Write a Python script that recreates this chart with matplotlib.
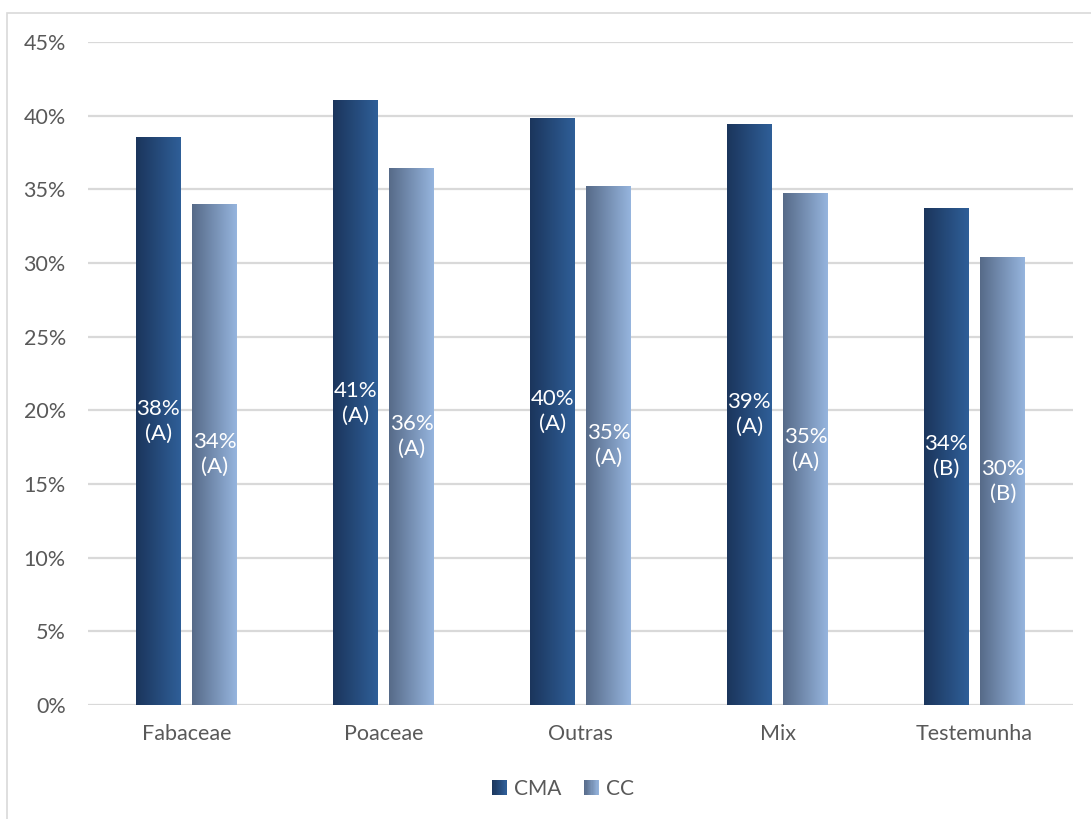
import numpy as np
import matplotlib.pyplot as plt
from matplotlib.colors import LinearSegmentedColormap
from matplotlib.patches import Rectangle
from matplotlib.legend_handler import HandlerBase

plt.rcParams['font.family'] = ['Lato', 'DejaVu Sans']

categorias = ['Fabaceae', 'Poaceae', 'Outras', 'Mix', 'Testemunha']
cma = [38.5, 41.0, 39.8, 39.4, 33.7]
cc = [34.0, 36.4, 35.2, 34.7, 30.4]
letras_cma = ['A', 'A', 'A', 'A', 'B']
letras_cc = ['A', 'A', 'A', 'A', 'B']
series = ['CMA', 'CC']

grad_cma = LinearSegmentedColormap.from_list('cma', ['#1b355c', '#2f5f98'])
grad_cc = LinearSegmentedColormap.from_list('cc', ['#566a88', '#96b5de'])

text_gray = '#595959'
grid_gray = '#d9d9d9'


class GradientHandler(HandlerBase):
    def __init__(self, cmap):
        super().__init__()
        self.cmap = cmap

    def create_artists(self, legend, orig_handle, xdescent, ydescent,
                       width, height, fontsize, trans):
        n = 12
        side = height * 1.0
        x0 = -xdescent + width - side
        strips = []
        for k in range(n):
            strips.append(Rectangle((x0 + side * k / n, -ydescent), side / n + 0.05, side,
                                    facecolor=self.cmap((k + 0.5) / n), edgecolor='none',
                                    transform=trans))
        return strips


fig = plt.figure(figsize=(10.91, 8.19), dpi=100)
ax = fig.add_axes([88 / 1091, 1 - 705 / 819, 985 / 1091, 663 / 819])

# chart border
fig.patches.append(Rectangle((7 / 1091, -0.1), 1.2, 1 - 13 / 819 + 0.1, transform=fig.transFigure,
                             fill=False, edgecolor='#d9d9d9', lw=1.2))

x = np.arange(len(categorias))
w = 0.228
off = 0.144


def gradient_bars(xs, vals, cmap):
    grad = np.linspace(0, 1, 256).reshape(1, -1)
    for xi, v in zip(xs, vals):
        ax.imshow(grad, cmap=cmap, extent=[xi - w / 2, xi + w / 2, 0, v],
                  aspect='auto', zorder=3, interpolation='bilinear')


gradient_bars(x - off, cma, grad_cma)
gradient_bars(x + off, cc, grad_cc)

for xi, v, l in zip(x - off, cma, letras_cma):
    ax.text(xi, v / 2, f'{v:.0f}%\n({l})', ha='center', va='center', color='white',
            fontsize=16, linespacing=1.3, zorder=4)
for xi, v, l in zip(x + off, cc, letras_cc):
    ax.text(xi, v / 2, f'{v:.0f}%\n({l})', ha='center', va='center', color='white',
            fontsize=16, linespacing=1.3, zorder=4)

ax.set_xlim(-0.5, len(categorias) - 0.5)
ax.set_ylim(0, 45)
ax.set_yticks(np.arange(0, 46, 5))
ax.set_yticklabels([f'{t}%' for t in range(0, 46, 5)])
ax.set_xticks(x)
ax.set_xticklabels(categorias)
ax.tick_params(length=0, labelsize=15.5, labelcolor=text_gray)
ax.tick_params(axis='y', pad=16)
ax.tick_params(axis='x', pad=14)
ax.grid(axis='y', color=grid_gray, lw=1.6)
ax.set_axisbelow(True)
for s in ax.spines.values():
    s.set_visible(False)

h1 = Rectangle((0, 0), 1, 1)
h2 = Rectangle((0, 0), 1, 1)
fig.legend([h1, h2], series, loc='center', bbox_to_anchor=(562 / 1091, 1 - 789 / 819),
           ncol=2, frameon=False, fontsize=15, labelcolor=text_gray,
           handler_map={h1: GradientHandler(grad_cma), h2: GradientHandler(grad_cc)},
           handlelength=0.8, handletextpad=0.35, columnspacing=1.0)

fig.savefig('out.png', dpi=100)
